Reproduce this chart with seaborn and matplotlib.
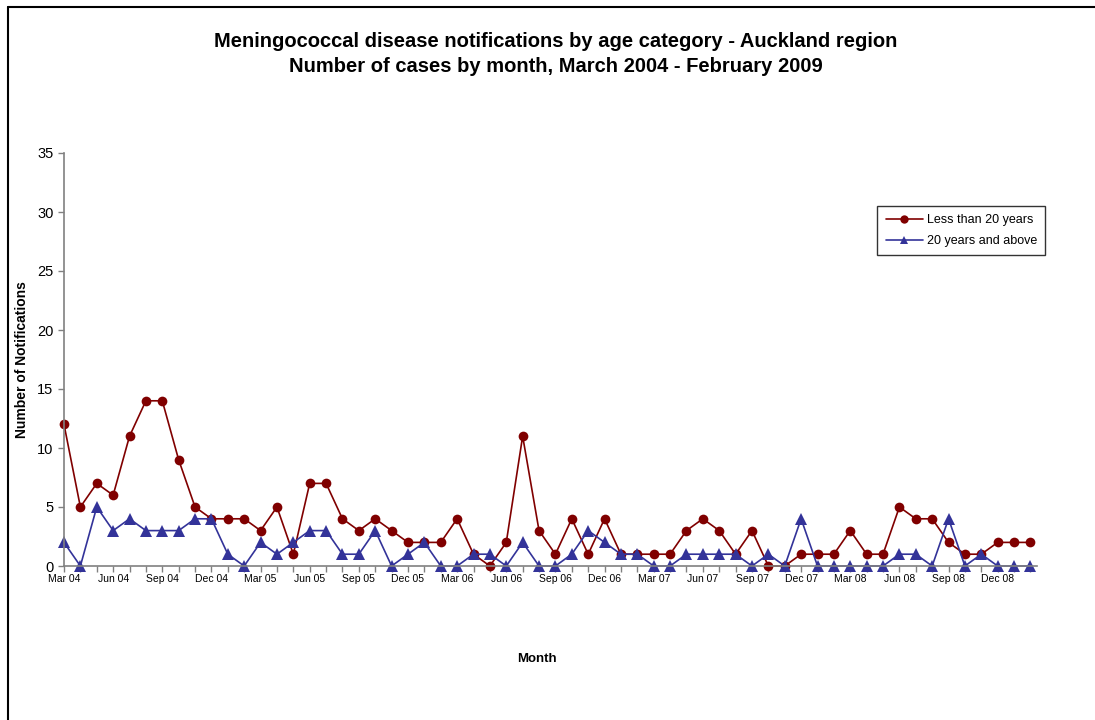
import pandas as pd
import matplotlib
matplotlib.use('Agg')
import matplotlib.pyplot as plt
from matplotlib.lines import Line2D
from matplotlib.ticker import MultipleLocator
import seaborn as sns

# Monthly notifications, March 2004 - February 2009
months = pd.date_range('2004-03-01', '2009-02-01', freq='MS').strftime('%b %y').tolist()

under_20 = [12, 5, 7, 6, 11, 14, 14, 9, 5, 4,
            4, 4, 3, 5, 1, 7, 7, 4, 3, 4, 3, 2,
            2, 2, 4, 1, 0, 2, 11, 3, 1, 4, 1, 4,
            1, 1, 1, 1, 3, 4, 3, 1, 3, 0, 0, 1,
            1, 1, 3, 1, 1, 5, 4, 4, 2, 1, 1, 2,
            2, 2]

over_20 = [2, 0, 5, 3, 4, 3, 3, 3, 4, 4,
           1, 0, 2, 1, 2, 3, 3, 1, 1, 3, 0, 1,
           2, 0, 0, 1, 1, 0, 2, 0, 0, 1, 3, 2,
           1, 1, 0, 0, 1, 1, 1, 1, 0, 1, 0, 4,
           0, 0, 0, 0, 0, 1, 1, 0, 4, 0, 1, 0,
           0, 0]

series_names = ['Less than 20 years', '20 years and above']


def main():
    df = pd.DataFrame({'month': range(len(months)),
                       series_names[0]: under_20,
                       series_names[1]: over_20})
    long_df = df.melt(id_vars='month', var_name='group', value_name='cases')

    sns.set_style('white')
    plt.rcParams['font.family'] = ['Liberation Sans', 'DejaVu Sans']
    plt.rcParams['text.color'] = 'black'
    plt.rcParams['axes.labelcolor'] = 'black'

    fig = plt.figure(figsize=(10.95, 7.2), dpi=100)
    ax = fig.add_axes([64 / 1095, 1 - 566 / 720, 973 / 1095, 413 / 720])

    sns.lineplot(data=long_df, x='month', y='cases', hue='group', style='group',
                 hue_order=series_names, style_order=series_names,
                 palette=['#800000', '#333399'], markers=['o', '^'], dashes=False,
                 markersize=7, markeredgewidth=0, linewidth=1.2, ax=ax)

    # bigger triangles, and let markers sit over the axes edges
    for line in ax.lines:
        line.set_clip_on(False)
        if line.get_marker() == '^':
            line.set_markersize(8.5)

    ax.set_xlim(0, 59.4)
    ax.set_ylim(0, 35)
    ax.yaxis.set_major_locator(MultipleLocator(5))
    ax.set_xticks(range(0, len(months), 3))
    ax.set_xticklabels(months[::3], fontsize=7.5)
    ax.xaxis.set_minor_locator(MultipleLocator(1))
    ax.tick_params(axis='y', labelsize=10.5, length=4, width=1, color='#808080',
                   labelcolor='black', left=True)
    ax.tick_params(axis='x', which='both', length=4, width=1, color='#808080',
                   labelcolor='black', bottom=True, pad=2)

    for side in ['top', 'right']:
        ax.spines[side].set_visible(False)
    for side in ['left', 'bottom']:
        ax.spines[side].set_color('#808080')
        ax.spines[side].set_linewidth(1.2)

    ax.set_xlabel('')
    ax.set_ylabel('Number of Notifications', fontsize=10, fontweight='bold', labelpad=6)
    fig.text(537 / 1095, 1 - 659 / 720, 'Month', fontsize=9.5, fontweight='bold',
             ha='center', va='center')

    fig.text(556 / 1095, 1 - 54 / 720,
             'Meningococcal disease notifications by age category - Auckland region\n'
             'Number of cases by month, March 2004 - February 2009',
             fontsize=14.5, fontweight='bold', ha='center', va='center', linespacing=1.45)

    leg = ax.legend(loc='upper left', bbox_to_anchor=(0.836, 0.872), fontsize=9,
                    frameon=True, fancybox=False, borderpad=0.65, handlelength=3.0,
                    handletextpad=0.3, labelspacing=0.75, borderaxespad=0)
    leg.get_frame().set_edgecolor('black')
    leg.get_frame().set_linewidth(1)
    for handle in leg.legend_handles:
        handle.set_markersize(6)

    # outer chart frame (left and top edges visible in the crop)
    fig.add_artist(Line2D([8 / 1095, 8 / 1095], [0, 1 - 7 / 720], color='black', linewidth=1.5))
    fig.add_artist(Line2D([8 / 1095, 1], [1 - 7 / 720, 1 - 7 / 720], color='black', linewidth=1.5))

    fig.savefig('out.png', dpi=100)


if __name__ == '__main__':
    main()
